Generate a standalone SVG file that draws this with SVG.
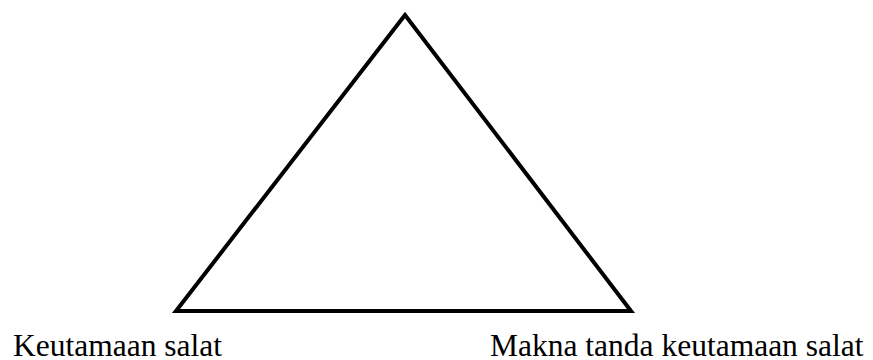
<svg xmlns="http://www.w3.org/2000/svg" width="873" height="360" viewBox="0 0 873 360">
<style>
.lbl{font-family:"Liberation Serif","Times New Roman",serif;font-size:31.5px;fill:#000}
.tri{fill:none;stroke:#000;stroke-width:4;stroke-linejoin:miter}
</style>
<rect width="873" height="360" fill="#fff"/>
<g id="triangle"><polygon class="tri" points="405,15 176,311 631,311"/></g>
<g id="label-left"><text class="lbl" x="13" y="356">Keutamaan salat</text></g>
<g id="label-right"><text class="lbl" x="490" y="356">Makna tanda keutamaan salat</text></g>
</svg>
